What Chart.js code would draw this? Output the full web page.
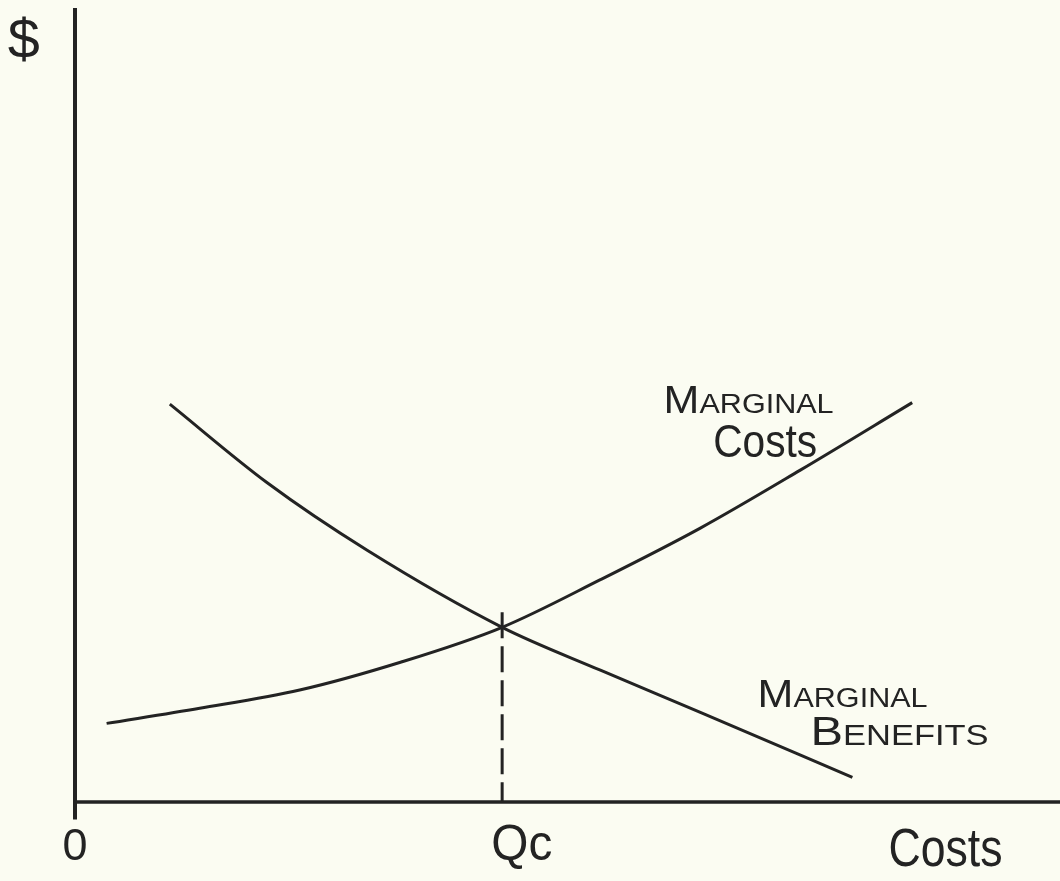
<!DOCTYPE html>
<html>
<head>
<meta charset="utf-8">
<title>Marginal Costs vs Marginal Benefits</title>
<script src="https://cdn.jsdelivr.net/npm/chart.js@4/dist/chart.umd.min.js"></script>
<style>
  html, body { margin: 0; padding: 0; background: #fbfcf2; }
  #wrap { width: 1060px; height: 881px; }
</style>
</head>
<body>
<div id="wrap"><canvas id="mcmbChart" width="1060" height="881"></canvas></div>
<script>
// quantity (x) and dollar (y) readings, arbitrary units
const benefitQty = [1.11, 2.25, 3.42, 5.00, 6.15, 7.32, 9.10]
const benefitVal = [5.01, 4.02, 3.17, 2.20, 1.66, 1.13, 0.31]
const costQty = [0.37, 1.46, 2.63, 3.81, 5.00, 6.15, 7.32, 8.49, 9.80]
const costVal = [0.99, 1.18, 1.41, 1.76, 2.20, 2.80, 3.45, 4.18, 5.03]
const qc = 5
const qcTop = 2.39
const xMax = 11.53
const yMax = 10

const axisLabels = { y: '$', origin: '0', qc: 'Qc', x: 'Costs' }
const curveLabels = { cost: ['Marginal', 'Costs'], benefit: ['Marginal', 'Benefits'] }

const ink = '#232323'
const toPts = (xs, ys) => xs.map((x, i) => ({ x, y: ys[i] }))

// hand-lettered text, squeezed to the width it takes in the drawing
const textPlugin = {
  id: 'handText',
  afterDatasetsDraw(chart) {
    const { ctx, scales: { x, y } } = chart
    const put = (txt, vx, vy, font, width, align) => {
      ctx.save()
      ctx.font = font
      ctx.fillStyle = ink
      ctx.textBaseline = 'alphabetic'
      const w = ctx.measureText(txt).width
      const sx = width / w
      let px = x.getPixelForValue(vx)
      if (align === 'center') px -= width / 2
      ctx.translate(px, y.getPixelForValue(vy))
      ctx.scale(sx, 1)
      ctx.fillText(txt, 0, 0)
      ctx.restore()
    }
    const face = "'Liberation Sans', 'DejaVu Sans', sans-serif"
    put(axisLabels.y, -0.6, 9.37, '56px ' + face, 32, 'center')
    put(axisLabels.origin, 0, -0.73, '44px ' + face, 25, 'center')
    put(axisLabels.qc, 5.23, -0.73, '50px ' + face, 61, 'center')
    put(axisLabels.x, 10.19, -0.81, '54px ' + face, 114, 'center')
    put(curveLabels.cost[0], 6.89, 4.90, 'small-caps 38px ' + face, 170, 'left')
    put(curveLabels.cost[1], 7.47, 4.35, '46px ' + face, 104, 'left')
    put(curveLabels.benefit[0], 7.99, 1.20, 'small-caps 38px ' + face, 170, 'left')
    put(curveLabels.benefit[1], 8.61, 0.72, 'small-caps 41px ' + face, 178, 'left')
  }
}

const line = (data, extra) => Object.assign({
  data,
  showLine: true,
  borderColor: ink,
  borderWidth: 3,
  pointRadius: 0,
  pointHoverRadius: 0,
  fill: false,
  clip: false
}, extra)

new Chart(document.getElementById('mcmbChart'), {
  type: 'scatter',
  data: {
    datasets: [
      line([{ x: 0, y: 0 }, { x: xMax, y: 0 }], { borderWidth: 3.5 }),
      line([{ x: 0, y: -0.22 }, { x: 0, y: yMax }], { borderWidth: 4 }),
      line(toPts(benefitQty, benefitVal), { cubicInterpolationMode: 'monotone' }),
      line(toPts(costQty, costVal), { cubicInterpolationMode: 'monotone' }),
      line([{ x: qc, y: qcTop }, { x: qc, y: 0 }], { borderWidth: 3, borderDash: [26, 8] })
    ]
  },
  options: {
    responsive: false,
    animation: false,
    layout: { padding: { left: 75, right: 0, top: 8, bottom: 79 } },
    plugins: { legend: { display: false }, tooltip: { enabled: false } },
    scales: {
      x: { type: 'linear', min: 0, max: xMax, display: false },
      y: { type: 'linear', min: 0, max: yMax, display: false }
    }
  },
  plugins: [textPlugin]
})
</script>
</body>
</html>
